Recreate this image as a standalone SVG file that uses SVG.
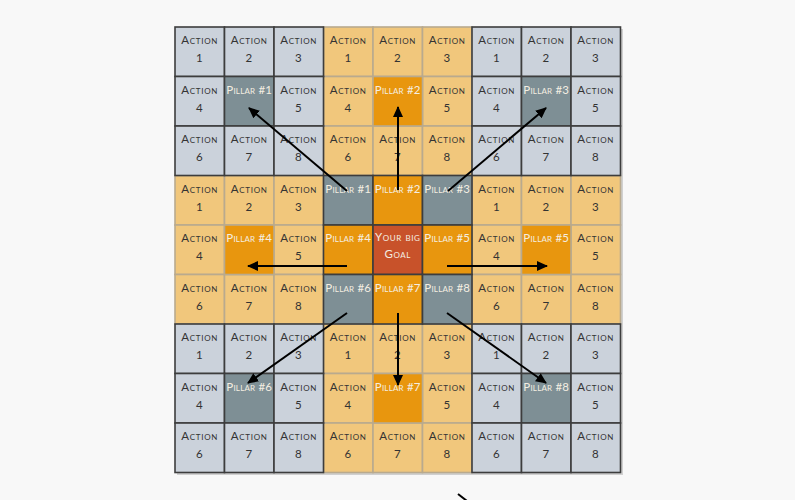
<svg xmlns="http://www.w3.org/2000/svg" width="795" height="500" viewBox="0 0 795 500">
<style>
rect{stroke-width:1.6}
.a{fill:#cbd2db;stroke:#3d3d3d}
.o{fill:#f1c77c;stroke:#b9aa8e}
.pg{fill:#7e8f95;stroke:#3d3d3d}
.po{fill:#e8960e;stroke:#b9aa8e}
.pc{fill:#e8960e;stroke:#3d3d3d}
.gl{fill:#c8522a;stroke:#3d3d3d}
text{font-family:Lato,"DejaVu Sans",sans-serif;font-size:11.5px;font-variant:small-caps;fill:#333;text-anchor:middle;letter-spacing:0.7px}
text.w{fill:#f4eee2;letter-spacing:0.2px}
.ar{stroke:#000;stroke-width:2;fill:none;marker-end:url(#ah)}
</style>
<defs>
<marker id="ah" markerUnits="userSpaceOnUse" markerWidth="11" markerHeight="10" refX="10" refY="5" orient="auto"><path d="M0,0 L11,5 L0,10 z" fill="#000"/></marker>
</defs>
<rect x="0" y="0" width="795" height="500" fill="#f8f8f8" stroke="none"/>
<rect x="177" y="29" width="446" height="446" fill="#d0d0d0" stroke="none"/>
<!-- orange blocks -->
<g id="b01">
<g id="c0-3"><rect class="o" x="323.5" y="27" width="49.5" height="49.5"/><text x="348.25" y="44">Action<tspan x="348.25" dy="18">1</tspan></text></g>
<g id="c0-4"><rect class="o" x="373" y="27" width="49.5" height="49.5"/><text x="397.75" y="44">Action<tspan x="397.75" dy="18">2</tspan></text></g>
<g id="c0-5"><rect class="o" x="422.5" y="27" width="49.5" height="49.5"/><text x="447.25" y="44">Action<tspan x="447.25" dy="18">3</tspan></text></g>
<g id="c1-3"><rect class="o" x="323.5" y="76.5" width="49.5" height="49.5"/><text x="348.25" y="93.5">Action<tspan x="348.25" dy="18">4</tspan></text></g>
<g id="c1-5"><rect class="o" x="422.5" y="76.5" width="49.5" height="49.5"/><text x="447.25" y="93.5">Action<tspan x="447.25" dy="18">5</tspan></text></g>
<g id="c2-3"><rect class="o" x="323.5" y="126" width="49.5" height="49.5"/><text x="348.25" y="143">Action<tspan x="348.25" dy="18">6</tspan></text></g>
<g id="c2-4"><rect class="o" x="373" y="126" width="49.5" height="49.5"/><text x="397.75" y="143">Action<tspan x="397.75" dy="18">7</tspan></text></g>
<g id="c2-5"><rect class="o" x="422.5" y="126" width="49.5" height="49.5"/><text x="447.25" y="143">Action<tspan x="447.25" dy="18">8</tspan></text></g>
<g id="c1-4"><rect class="po" x="373" y="76.5" width="49.5" height="49.5"/><text class="w" x="397.75" y="93.5">Pillar #2</text></g>
</g>
<g id="b10">
<g id="c3-0"><rect class="o" x="175" y="175.5" width="49.5" height="49.5"/><text x="199.75" y="192.5">Action<tspan x="199.75" dy="18">1</tspan></text></g>
<g id="c3-1"><rect class="o" x="224.5" y="175.5" width="49.5" height="49.5"/><text x="249.25" y="192.5">Action<tspan x="249.25" dy="18">2</tspan></text></g>
<g id="c3-2"><rect class="o" x="274" y="175.5" width="49.5" height="49.5"/><text x="298.75" y="192.5">Action<tspan x="298.75" dy="18">3</tspan></text></g>
<g id="c4-0"><rect class="o" x="175" y="225" width="49.5" height="49.5"/><text x="199.75" y="242">Action<tspan x="199.75" dy="18">4</tspan></text></g>
<g id="c4-2"><rect class="o" x="274" y="225" width="49.5" height="49.5"/><text x="298.75" y="242">Action<tspan x="298.75" dy="18">5</tspan></text></g>
<g id="c5-0"><rect class="o" x="175" y="274.5" width="49.5" height="49.5"/><text x="199.75" y="291.5">Action<tspan x="199.75" dy="18">6</tspan></text></g>
<g id="c5-1"><rect class="o" x="224.5" y="274.5" width="49.5" height="49.5"/><text x="249.25" y="291.5">Action<tspan x="249.25" dy="18">7</tspan></text></g>
<g id="c5-2"><rect class="o" x="274" y="274.5" width="49.5" height="49.5"/><text x="298.75" y="291.5">Action<tspan x="298.75" dy="18">8</tspan></text></g>
<g id="c4-1"><rect class="po" x="224.5" y="225" width="49.5" height="49.5"/><text class="w" x="249.25" y="242">Pillar #4</text></g>
</g>
<g id="b12">
<g id="c3-6"><rect class="o" x="472" y="175.5" width="49.5" height="49.5"/><text x="496.75" y="192.5">Action<tspan x="496.75" dy="18">1</tspan></text></g>
<g id="c3-7"><rect class="o" x="521.5" y="175.5" width="49.5" height="49.5"/><text x="546.25" y="192.5">Action<tspan x="546.25" dy="18">2</tspan></text></g>
<g id="c3-8"><rect class="o" x="571" y="175.5" width="49.5" height="49.5"/><text x="595.75" y="192.5">Action<tspan x="595.75" dy="18">3</tspan></text></g>
<g id="c4-6"><rect class="o" x="472" y="225" width="49.5" height="49.5"/><text x="496.75" y="242">Action<tspan x="496.75" dy="18">4</tspan></text></g>
<g id="c4-8"><rect class="o" x="571" y="225" width="49.5" height="49.5"/><text x="595.75" y="242">Action<tspan x="595.75" dy="18">5</tspan></text></g>
<g id="c5-6"><rect class="o" x="472" y="274.5" width="49.5" height="49.5"/><text x="496.75" y="291.5">Action<tspan x="496.75" dy="18">6</tspan></text></g>
<g id="c5-7"><rect class="o" x="521.5" y="274.5" width="49.5" height="49.5"/><text x="546.25" y="291.5">Action<tspan x="546.25" dy="18">7</tspan></text></g>
<g id="c5-8"><rect class="o" x="571" y="274.5" width="49.5" height="49.5"/><text x="595.75" y="291.5">Action<tspan x="595.75" dy="18">8</tspan></text></g>
<g id="c4-7"><rect class="po" x="521.5" y="225" width="49.5" height="49.5"/><text class="w" x="546.25" y="242">Pillar #5</text></g>
</g>
<g id="b21">
<g id="c6-3"><rect class="o" x="323.5" y="324" width="49.5" height="49.5"/><text x="348.25" y="341">Action<tspan x="348.25" dy="18">1</tspan></text></g>
<g id="c6-4"><rect class="o" x="373" y="324" width="49.5" height="49.5"/><text x="397.75" y="341">Action<tspan x="397.75" dy="18">2</tspan></text></g>
<g id="c6-5"><rect class="o" x="422.5" y="324" width="49.5" height="49.5"/><text x="447.25" y="341">Action<tspan x="447.25" dy="18">3</tspan></text></g>
<g id="c7-3"><rect class="o" x="323.5" y="373.5" width="49.5" height="49.5"/><text x="348.25" y="390.5">Action<tspan x="348.25" dy="18">4</tspan></text></g>
<g id="c7-5"><rect class="o" x="422.5" y="373.5" width="49.5" height="49.5"/><text x="447.25" y="390.5">Action<tspan x="447.25" dy="18">5</tspan></text></g>
<g id="c8-3"><rect class="o" x="323.5" y="423" width="49.5" height="49.5"/><text x="348.25" y="440">Action<tspan x="348.25" dy="18">6</tspan></text></g>
<g id="c8-4"><rect class="o" x="373" y="423" width="49.5" height="49.5"/><text x="397.75" y="440">Action<tspan x="397.75" dy="18">7</tspan></text></g>
<g id="c8-5"><rect class="o" x="422.5" y="423" width="49.5" height="49.5"/><text x="447.25" y="440">Action<tspan x="447.25" dy="18">8</tspan></text></g>
<g id="c7-4"><rect class="po" x="373" y="373.5" width="49.5" height="49.5"/><text class="w" x="397.75" y="390.5">Pillar #7</text></g>
</g>
<!-- gray blocks -->
<g id="b00">
<g id="c0-0"><rect class="a" x="175" y="27" width="49.5" height="49.5"/><text x="199.75" y="44">Action<tspan x="199.75" dy="18">1</tspan></text></g>
<g id="c0-1"><rect class="a" x="224.5" y="27" width="49.5" height="49.5"/><text x="249.25" y="44">Action<tspan x="249.25" dy="18">2</tspan></text></g>
<g id="c0-2"><rect class="a" x="274" y="27" width="49.5" height="49.5"/><text x="298.75" y="44">Action<tspan x="298.75" dy="18">3</tspan></text></g>
<g id="c1-0"><rect class="a" x="175" y="76.5" width="49.5" height="49.5"/><text x="199.75" y="93.5">Action<tspan x="199.75" dy="18">4</tspan></text></g>
<g id="c1-1"><rect class="pg" x="224.5" y="76.5" width="49.5" height="49.5"/><text class="w" x="249.25" y="93.5">Pillar #1</text></g>
<g id="c1-2"><rect class="a" x="274" y="76.5" width="49.5" height="49.5"/><text x="298.75" y="93.5">Action<tspan x="298.75" dy="18">5</tspan></text></g>
<g id="c2-0"><rect class="a" x="175" y="126" width="49.5" height="49.5"/><text x="199.75" y="143">Action<tspan x="199.75" dy="18">6</tspan></text></g>
<g id="c2-1"><rect class="a" x="224.5" y="126" width="49.5" height="49.5"/><text x="249.25" y="143">Action<tspan x="249.25" dy="18">7</tspan></text></g>
<g id="c2-2"><rect class="a" x="274" y="126" width="49.5" height="49.5"/><text x="298.75" y="143">Action<tspan x="298.75" dy="18">8</tspan></text></g>
</g>
<g id="b02">
<g id="c0-6"><rect class="a" x="472" y="27" width="49.5" height="49.5"/><text x="496.75" y="44">Action<tspan x="496.75" dy="18">1</tspan></text></g>
<g id="c0-7"><rect class="a" x="521.5" y="27" width="49.5" height="49.5"/><text x="546.25" y="44">Action<tspan x="546.25" dy="18">2</tspan></text></g>
<g id="c0-8"><rect class="a" x="571" y="27" width="49.5" height="49.5"/><text x="595.75" y="44">Action<tspan x="595.75" dy="18">3</tspan></text></g>
<g id="c1-6"><rect class="a" x="472" y="76.5" width="49.5" height="49.5"/><text x="496.75" y="93.5">Action<tspan x="496.75" dy="18">4</tspan></text></g>
<g id="c1-7"><rect class="pg" x="521.5" y="76.5" width="49.5" height="49.5"/><text class="w" x="546.25" y="93.5">Pillar #3</text></g>
<g id="c1-8"><rect class="a" x="571" y="76.5" width="49.5" height="49.5"/><text x="595.75" y="93.5">Action<tspan x="595.75" dy="18">5</tspan></text></g>
<g id="c2-6"><rect class="a" x="472" y="126" width="49.5" height="49.5"/><text x="496.75" y="143">Action<tspan x="496.75" dy="18">6</tspan></text></g>
<g id="c2-7"><rect class="a" x="521.5" y="126" width="49.5" height="49.5"/><text x="546.25" y="143">Action<tspan x="546.25" dy="18">7</tspan></text></g>
<g id="c2-8"><rect class="a" x="571" y="126" width="49.5" height="49.5"/><text x="595.75" y="143">Action<tspan x="595.75" dy="18">8</tspan></text></g>
</g>
<g id="b20">
<g id="c6-0"><rect class="a" x="175" y="324" width="49.5" height="49.5"/><text x="199.75" y="341">Action<tspan x="199.75" dy="18">1</tspan></text></g>
<g id="c6-1"><rect class="a" x="224.5" y="324" width="49.5" height="49.5"/><text x="249.25" y="341">Action<tspan x="249.25" dy="18">2</tspan></text></g>
<g id="c6-2"><rect class="a" x="274" y="324" width="49.5" height="49.5"/><text x="298.75" y="341">Action<tspan x="298.75" dy="18">3</tspan></text></g>
<g id="c7-0"><rect class="a" x="175" y="373.5" width="49.5" height="49.5"/><text x="199.75" y="390.5">Action<tspan x="199.75" dy="18">4</tspan></text></g>
<g id="c7-1"><rect class="pg" x="224.5" y="373.5" width="49.5" height="49.5"/><text class="w" x="249.25" y="390.5">Pillar #6</text></g>
<g id="c7-2"><rect class="a" x="274" y="373.5" width="49.5" height="49.5"/><text x="298.75" y="390.5">Action<tspan x="298.75" dy="18">5</tspan></text></g>
<g id="c8-0"><rect class="a" x="175" y="423" width="49.5" height="49.5"/><text x="199.75" y="440">Action<tspan x="199.75" dy="18">6</tspan></text></g>
<g id="c8-1"><rect class="a" x="224.5" y="423" width="49.5" height="49.5"/><text x="249.25" y="440">Action<tspan x="249.25" dy="18">7</tspan></text></g>
<g id="c8-2"><rect class="a" x="274" y="423" width="49.5" height="49.5"/><text x="298.75" y="440">Action<tspan x="298.75" dy="18">8</tspan></text></g>
</g>
<g id="b22">
<g id="c6-6"><rect class="a" x="472" y="324" width="49.5" height="49.5"/><text x="496.75" y="341">Action<tspan x="496.75" dy="18">1</tspan></text></g>
<g id="c6-7"><rect class="a" x="521.5" y="324" width="49.5" height="49.5"/><text x="546.25" y="341">Action<tspan x="546.25" dy="18">2</tspan></text></g>
<g id="c6-8"><rect class="a" x="571" y="324" width="49.5" height="49.5"/><text x="595.75" y="341">Action<tspan x="595.75" dy="18">3</tspan></text></g>
<g id="c7-6"><rect class="a" x="472" y="373.5" width="49.5" height="49.5"/><text x="496.75" y="390.5">Action<tspan x="496.75" dy="18">4</tspan></text></g>
<g id="c7-7"><rect class="pg" x="521.5" y="373.5" width="49.5" height="49.5"/><text class="w" x="546.25" y="390.5">Pillar #8</text></g>
<g id="c7-8"><rect class="a" x="571" y="373.5" width="49.5" height="49.5"/><text x="595.75" y="390.5">Action<tspan x="595.75" dy="18">5</tspan></text></g>
<g id="c8-6"><rect class="a" x="472" y="423" width="49.5" height="49.5"/><text x="496.75" y="440">Action<tspan x="496.75" dy="18">6</tspan></text></g>
<g id="c8-7"><rect class="a" x="521.5" y="423" width="49.5" height="49.5"/><text x="546.25" y="440">Action<tspan x="546.25" dy="18">7</tspan></text></g>
<g id="c8-8"><rect class="a" x="571" y="423" width="49.5" height="49.5"/><text x="595.75" y="440">Action<tspan x="595.75" dy="18">8</tspan></text></g>
</g>
<!-- center block -->
<g id="b11">
<g id="p1"><rect class="pg" x="323.5" y="175.5" width="49.5" height="49.5"/><text class="w" x="348.25" y="192.5">Pillar #1</text></g>
<g id="p2"><rect class="pc" x="373" y="175.5" width="49.5" height="49.5"/><text class="w" x="397.75" y="192.5">Pillar #2</text></g>
<g id="p3"><rect class="pg" x="422.5" y="175.5" width="49.5" height="49.5"/><text class="w" x="447.25" y="192.5">Pillar #3</text></g>
<g id="p4"><rect class="pc" x="323.5" y="225" width="49.5" height="49.5"/><text class="w" x="348.25" y="242">Pillar #4</text></g>
<g id="goal"><rect class="gl" x="373" y="225" width="49.5" height="49.5"/><text class="w" x="397.75" y="241" style="letter-spacing:0.6px">Your big<tspan x="397.75" dy="17">Goal</tspan></text></g>
<g id="p5"><rect class="pc" x="422.5" y="225" width="49.5" height="49.5"/><text class="w" x="447.25" y="242">Pillar #5</text></g>
<g id="p6"><rect class="pg" x="323.5" y="274.5" width="49.5" height="49.5"/><text class="w" x="348.25" y="291.5">Pillar #6</text></g>
<g id="p7"><rect class="pc" x="373" y="274.5" width="49.5" height="49.5"/><text class="w" x="397.75" y="291.5">Pillar #7</text></g>
<g id="p8"><rect class="pg" x="422.5" y="274.5" width="49.5" height="49.5"/><text class="w" x="447.25" y="291.5">Pillar #8</text></g>
</g>
<g id="connectors">
<line class="ar" x1="347" y1="191" x2="249" y2="108"/>
<line class="ar" x1="398" y1="190" x2="398" y2="107"/>
<line class="ar" x1="448" y1="191" x2="546" y2="108"/>
<line class="ar" x1="347" y1="266" x2="248" y2="266"/>
<line class="ar" x1="447" y1="266" x2="547" y2="266"/>
<line class="ar" x1="347" y1="313" x2="248" y2="383"/>
<line class="ar" x1="398" y1="313" x2="398" y2="385"/>
<line class="ar" x1="447" y1="313" x2="546" y2="383"/>
<line x1="458" y1="494" x2="467" y2="501" stroke="#000" stroke-width="2"/>
</g>
</svg>
